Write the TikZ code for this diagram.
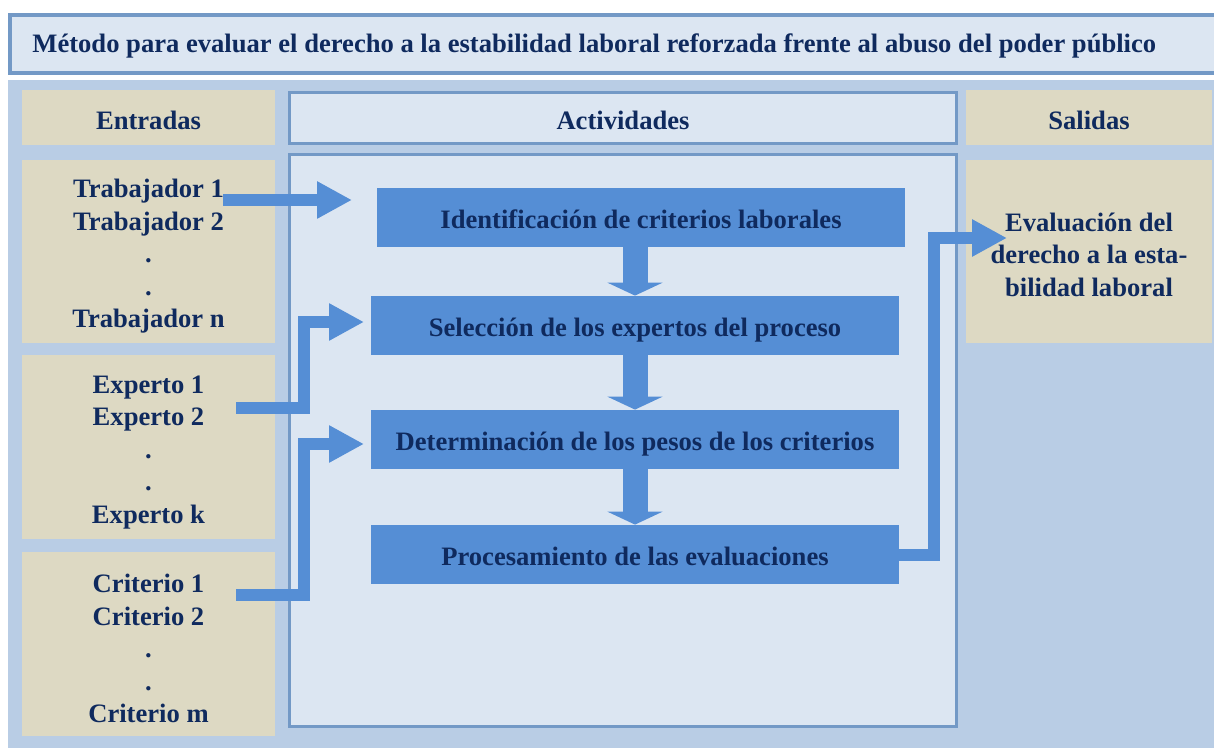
\documentclass[tikz,border=0pt]{standalone}
\usepackage{fontspec}
\setmainfont{Liberation Serif}
\usetikzlibrary{arrows.meta,positioning}
\definecolor{marco}{HTML}{7399C6}
\definecolor{celeste}{HTML}{DCE6F2}
\definecolor{fondo}{HTML}{B9CDE5}
\definecolor{arena}{HTML}{DDD9C3}
\definecolor{azul}{HTML}{558ED5}
\definecolor{tinta}{HTML}{0F2A5E}
\newcommand\alto[1]{\rule{0pt}{#1}}
\tikzset{
  caja/.style={fill=arena,inner sep=0pt,align=center,minimum width=126.5pt},
  cabeza/.style={text height=14pt,text depth=2pt},
  marcobox/.style={draw=marco,fill=celeste,line width=1.5pt,inner sep=0pt,minimum width=333.5pt},
  actbox/.style={fill=azul,inner sep=0pt,minimum width=264pt,minimum height=29.5pt,text height=13.5pt,text depth=2.7pt},
  flecha/.style={azul,line width=6pt,-{Triangle[width=17.5pt,length=17.5pt]}},
  bajada/.style={azul,line width=12.5pt,-{Triangle[width=27.5pt,length=6.5pt]}}
}
\begin{document}
\begin{tikzpicture}[x=0.5pt,y=-0.5pt,font=\fontsize{13.3}{16.25}\selectfont\bfseries,text=tinta]
\useasboundingbox (0,0) rectangle (1214,748);
\fill[fondo](8,80) rectangle (1214,748);
\draw[draw=marco,fill=celeste,line width=2pt](10,15) rectangle (1224,73.5);
\node[anchor=base west,inner sep=0pt](titulo) at (32,52.5){Método para evaluar el derecho a la estabilidad laboral reforzada frente al abuso del poder público};
\node[caja,cabeza,minimum height=27.5pt](entradas) at (148.5,117.5){Entradas};
\node[marcobox,cabeza,minimum height=25.5pt](actividades) at (623,118){Actividades};
\node[caja,cabeza,minimum width=123pt,minimum height=27.5pt](salidas) at (1089,117.5){Salidas};
\node[marcobox,minimum height=286pt](proceso) at (623,440.5){};
\node[caja,minimum height=91.5pt](trab) at (148.5,251.5){\alto{14pt}Trabajador 1\\Trabajador 2\\.\\.\\Trabajador n};
\node[caja,minimum height=92pt](exp) at (148.5,447){\alto{14pt}Experto 1\\Experto 2\\.\\.\\Experto k};
\node[caja,minimum height=92pt](crit) at (148.5,644){\alto{14pt}Criterio 1\\Criterio 2\\.\\.\\Criterio m};
\node[caja,minimum width=123pt,minimum height=91.5pt](eval) at (1089,251.5){\alto{12.3pt}Evaluación del\\derecho a la esta-\\bilidad laboral};
\node[actbox](ident) at (641,217.5){Identificación de criterios laborales};
\node[actbox](selec) at (635,325.5){Selección de los expertos del proceso};
\node[actbox](deter) at (635,439.5){Determinación de los pesos de los criterios};
\node[actbox](proce) at (635,554.5){Procesamiento de las evaluaciones};
\coordinate (t1) at (223,200);
\coordinate (e1) at (236,408);
\coordinate (c1) at (236,595);
\coordinate (p1) at (352,200);
\coordinate (p2) at (364,322);
\coordinate (p3) at (364,444);
\coordinate (p4) at (1007,238);
\draw[flecha](t1)--(p1);
\draw[flecha](e1)-- ++(68,0)|-(p2);
\draw[flecha](c1)-- ++(68,0)|-(p3);
\draw[flecha](proce.east)-- ++(35,0)|-(p4);
\draw[bajada](selec.north|-ident.south)--(selec.north);
\draw[bajada](deter.north|-selec.south)--(deter.north);
\draw[bajada](proce.north|-deter.south)--(proce.north);
\end{tikzpicture}
\end{document}
